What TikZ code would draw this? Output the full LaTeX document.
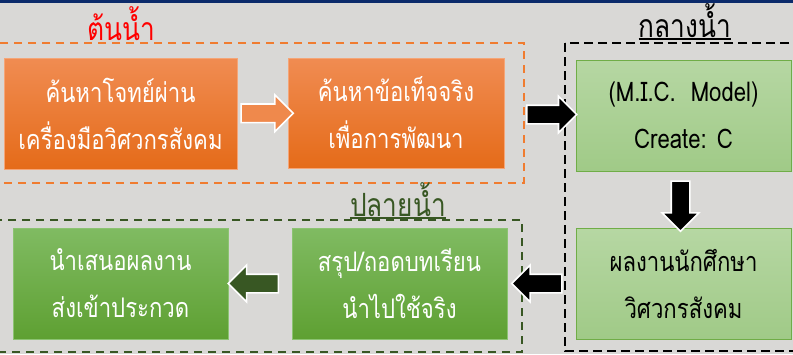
\documentclass[tikz,border=0pt]{standalone}
\usepackage{fontspec}
\setmainfont{Loma}[Script=Thai,FakeStretch=0.82]
\usetikzlibrary{calc,shapes.arrows}

\definecolor{pagegray}{HTML}{D9D8D6}
\definecolor{topnavy}{HTML}{0B2A6B}
\definecolor{upline}{HTML}{F07C30}
\definecolor{uptop}{HTML}{F08C52}
\definecolor{upbot}{HTML}{E56B19}
\definecolor{upedge}{HTML}{F5A577}
\definecolor{lowline}{HTML}{385723}
\definecolor{lowtop}{HTML}{80BB62}
\definecolor{lowbot}{HTML}{5EA032}
\definecolor{lowedge}{HTML}{8CC372}
\definecolor{midtop}{HTML}{B6D7A3}
\definecolor{midbot}{HTML}{A0CA87}
\definecolor{midedge}{HTML}{70AD47}

\tikzset{
  stage/.style={line width=0.8pt, align=center, minimum width=215pt, minimum height=111pt,
    inner sep=0pt, font=\fontsize{27}{42}\selectfont},
  upstage/.style={stage, draw=upedge, top color=uptop, bottom color=upbot, text=white},
  midstage/.style={stage, draw=midedge, top color=midtop, bottom color=midbot, text=black},
  lowstage/.style={stage, draw=lowedge, top color=lowtop, bottom color=lowbot, text=white},
  zone/.style={line width=2pt, dash pattern=on 8pt off 6pt},
  zonetitle/.style={anchor=base, inner sep=0pt, font=\fontsize{32}{36}\selectfont},
  bigarrow/.style={single arrow, draw=white, line width=1.6pt, minimum width=36pt,
    minimum height=50pt, single arrow head extend=9pt, single arrow head indent=0pt, inner sep=8.5pt}
}

\begin{document}
\begin{tikzpicture}[x=1pt,y=-1pt]
  \useasboundingbox (0,0) rectangle (793,354);
  \fill[pagegray] (0,0) rectangle (793,354);
  \fill[topnavy] (0,0) rectangle (793,3);

  %% zones
  \draw[zone, upline] (-10,43) rectangle (524,183);
  \draw[zone, black, line width=2.4pt, dash pattern=on 9pt off 5pt] (565,43) rectangle (810,351);
  \draw[zone, lowline] (-10,220) rectangle (522,352);

  \node[zonetitle, text=red] (tup) at (121,40) {ต้นน้ำ};
  \node[zonetitle, text=black] (tmid) at (685,37) {กลางน้ำ};
  \draw[black, line width=1.2pt] ([yshift=-2pt]tmid.base west) -- ([yshift=-2pt]tmid.base east);
  \node[zonetitle, text=lowline] (tlow) at (398,216) {ปลายน้ำ};
  \draw[lowline, line width=1.2pt] ([yshift=-2pt]tlow.base west) -- ([yshift=-2pt]tlow.base east);

  %% stages
  \node[upstage, minimum width=233pt] (find) at (120.5,113.5) {ค้นหาโจทย์ผ่าน\\[5pt]เครื่องมือวิศวกรสังคม};
  \node[upstage, minimum width=216pt, minimum height=110pt] (fact) at (396,113) {ค้นหาข้อเท็จจริง\\[5pt]เพื่อการพัฒนา};
  \node[midstage] (mic) at (683.5,115.5) {(M.I.C.\ \ Model)\\[5pt]Create: C};
  \node[midstage] (work) at (683.5,283.5) {ผลงานนักศึกษา\\[5pt]วิศวกรสังคม};
  \node[lowstage] (sum) at (399.5,283.5) {สรุป/ถอดบทเรียน\\[5pt]นำไปใช้จริง};
  \node[lowstage] (show) at (120.5,283.5) {นำเสนอผลงาน\\[5pt]ส่งเข้าประกวด};

  %% arrows
  \node[bigarrow, fill=uptop!90!upbot, minimum height=52pt] (a1) at ($(find.east)!0.5!(fact.west)$) {};
  \node[bigarrow, fill=black, minimum width=35pt] (a2) at ($(fact.east)!0.6!(mic.west)$) {};
  \node[bigarrow, fill=black, minimum width=35pt, shape border rotate=270] (a3) at ([xshift=-3pt,yshift=-2pt]$(mic.south)!0.5!(work.north)$) {};
  \node[bigarrow, fill=black, minimum width=35pt, shape border rotate=180] (a4) at ($(work.west)!0.5!(sum.east)$) {};
  \node[bigarrow, fill=lowline, minimum width=35pt, shape border rotate=180] (a5) at ([xshift=-2pt]$(sum.west)!0.5!(show.east)$) {};
\end{tikzpicture}
\end{document}
